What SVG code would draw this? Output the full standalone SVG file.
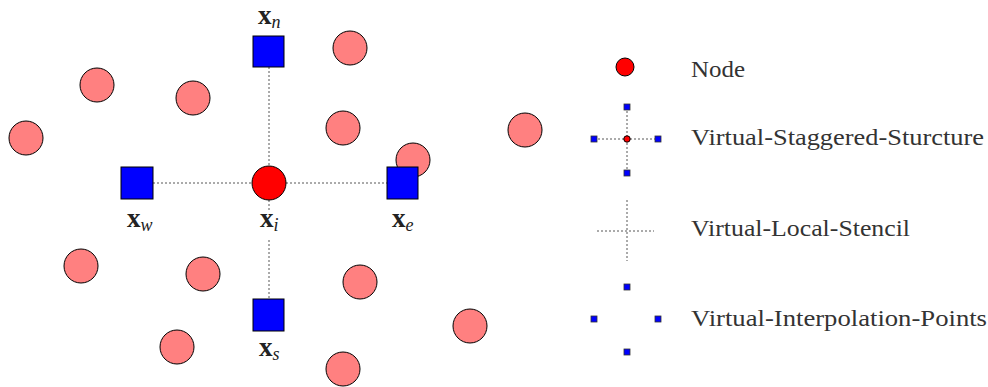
<svg xmlns="http://www.w3.org/2000/svg" width="988" height="387" viewBox="0 0 988 387">
<style>
.pink{fill:#ff8080;stroke:#000;stroke-width:1}
.red{fill:#ff0000;stroke:#000;stroke-width:1}
.blue{fill:#0000ff;stroke:#000;stroke-width:1}
.sm{fill:#0000ff;stroke:#333;stroke-width:0.8}
.dash{stroke:#444;stroke-width:0.9;stroke-dasharray:2,2;fill:none}
.lbl{font-family:"Liberation Serif",serif;font-weight:bold;font-size:27px;fill:#222}
.sub{font-family:"Liberation Serif",serif;font-style:italic;font-weight:normal;font-size:18px}
.leg{font-family:"Liberation Serif","DejaVu Serif",serif;font-size:24px;fill:#333}
</style>
<rect width="988" height="387" fill="#fff"/>
<g id="connectors">
<line class="dash" x1="153" y1="183" x2="252" y2="183"/>
<line class="dash" x1="286" y1="183" x2="387" y2="183"/>
<line class="dash" x1="269" y1="67" x2="269" y2="166"/>
<line class="dash" x1="269" y1="200" x2="269" y2="210"/>
<line class="dash" x1="269" y1="240" x2="269" y2="299"/>
</g>
<g id="points">
<circle class="pink" cx="350" cy="48" r="17"/>
<circle class="pink" cx="97" cy="85" r="17"/>
<circle class="pink" cx="193" cy="98" r="17"/>
<circle class="pink" cx="26" cy="138" r="17"/>
<circle class="pink" cx="343" cy="128" r="17"/>
<circle class="pink" cx="525" cy="130" r="17"/>
<circle class="pink" cx="413" cy="160" r="17"/>
<circle class="pink" cx="81" cy="266" r="17"/>
<circle class="pink" cx="203" cy="274" r="17"/>
<circle class="pink" cx="360" cy="282" r="17"/>
<circle class="pink" cx="470" cy="326" r="17"/>
<circle class="pink" cx="177" cy="347" r="17"/>
<circle class="pink" cx="343" cy="369" r="17"/>
</g>
<g id="node-i">
<circle class="red" cx="269" cy="183" r="17"/>
<text class="lbl" x="260" y="227">x<tspan class="sub" dy="4">i</tspan></text>
</g>
<g id="node-n">
<rect class="blue" x="253" y="36" width="31" height="31"/>
<text class="lbl" x="258" y="24">x<tspan class="sub" dy="4">n</tspan></text>
</g>
<g id="node-w">
<rect class="blue" x="121" y="167" width="32" height="32"/>
<text class="lbl" x="127" y="227">x<tspan class="sub" dy="4">w</tspan></text>
</g>
<g id="node-e">
<rect class="blue" x="387" y="167" width="31" height="32"/>
<text class="lbl" x="392" y="227">x<tspan class="sub" dy="4">e</tspan></text>
</g>
<g id="node-s">
<rect class="blue" x="253" y="299" width="31" height="32"/>
<text class="lbl" x="259" y="356">x<tspan class="sub" dy="4">s</tspan></text>
</g>
<g id="legend-node">
<circle class="red" cx="625" cy="67" r="9"/>
<text class="leg" x="691" y="77" textLength="54" lengthAdjust="spacingAndGlyphs">Node</text>
</g>
<g id="legend-staggered">
<line class="dash" x1="594" y1="139" x2="658" y2="139"/>
<line class="dash" x1="627" y1="107" x2="627" y2="172"/>
<rect class="sm" x="624" y="104" width="6" height="6"/>
<rect class="sm" x="591" y="136" width="6" height="6"/>
<rect class="sm" x="655" y="136" width="6" height="6"/>
<rect class="sm" x="624" y="170" width="6" height="6"/>
<circle class="red" cx="627" cy="139" r="3.2" stroke-width="0.8"/>
<text class="leg" x="691" y="145" textLength="293" lengthAdjust="spacingAndGlyphs">Virtual-Staggered-Sturcture</text>
</g>
<g id="legend-stencil">
<line class="dash" x1="597" y1="231" x2="654" y2="231"/>
<line class="dash" x1="627" y1="200" x2="627" y2="261"/>
<text class="leg" x="691" y="236" textLength="219" lengthAdjust="spacingAndGlyphs">Virtual-Local-Stencil</text>
</g>
<g id="legend-interp">
<rect class="sm" x="624" y="284" width="6" height="6"/>
<rect class="sm" x="591" y="316" width="6" height="6"/>
<rect class="sm" x="655" y="316" width="6" height="6"/>
<rect class="sm" x="624" y="349" width="6" height="6"/>
<text class="leg" x="691" y="326" textLength="296" lengthAdjust="spacingAndGlyphs">Virtual-Interpolation-Points</text>
</g>
</svg>
